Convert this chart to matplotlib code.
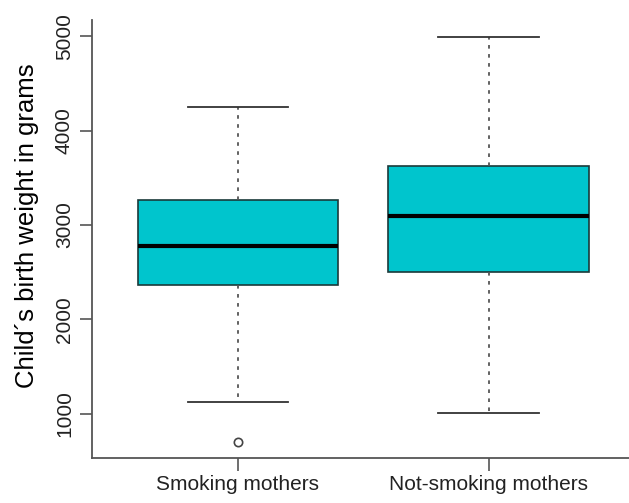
import matplotlib.pyplot as plt

plt.rcParams['font.family'] = ['Liberation Sans', 'DejaVu Sans']

groups = ["Smoking mothers", "Not-smoking mothers"]
whisk_low = [1130, 1015]
q1 = [2365, 2505]
median = [2778, 3095]
q3 = [3265, 3620]
whisk_high = [4250, 4990]
outliers = [[700], []]

stats = []
for i, name in enumerate(groups):
    stats.append(dict(label=name, whislo=whisk_low[i], q1=q1[i], med=median[i],
                      q3=q3[i], whishi=whisk_high[i], fliers=outliers[i]))

fig = plt.figure(figsize=(6.29, 5.03), dpi=100)
ax = fig.add_axes([0.1463, 0.0895, 0.8537, 0.8705])

ax.bxp(stats, positions=[1, 2], widths=0.8, patch_artist=True,
       boxprops=dict(facecolor='#00C5CD', edgecolor='#1a3a3a', linewidth=1.2),
       medianprops=dict(color='black', linewidth=3),
       whiskerprops=dict(color='#555555', linestyle=(0, (2, 3)), linewidth=1.3),
       capprops=dict(color='#333333', linewidth=1.3),
       flierprops=dict(marker='o', markersize=6, markerfacecolor='none',
                       markeredgecolor='#444444', markeredgewidth=1.2))

ax.set_xlim(0.418, 2.56)
ax.set_ylim(534, 5169)
ax.set_yticks([1000, 2000, 3000, 4000, 5000])
ax.set_yticklabels(['1000', '2000', '3000', '4000', '5000'], rotation=90, va='center')
ax.set_xticks([1, 2])
ax.set_xticklabels(groups)
ax.set_ylabel("Child´s birth weight in grams", fontsize=18.5)
ax.yaxis.set_label_coords(-0.098, 0.53)

ax.tick_params(axis='both', labelsize=15, colors='#222222', length=9, width=1.2,
               color='#555555')
ax.tick_params(axis='y', pad=4)
ax.spines['top'].set_visible(False)
ax.spines['right'].set_visible(False)
for s in ['left', 'bottom']:
    ax.spines[s].set_color('#555555')
    ax.spines[s].set_linewidth(1.3)

fig.savefig('out.png', dpi=100)
